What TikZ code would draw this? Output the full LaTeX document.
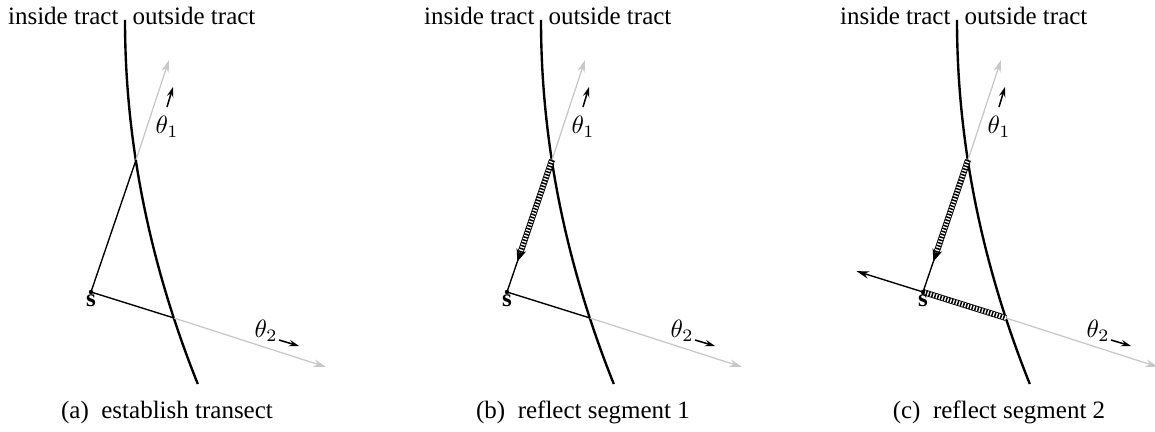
\documentclass[tikz,border=0pt]{standalone}
\usepackage{fontspec}
\setmainfont{Liberation Serif}
\usetikzlibrary{arrows.meta,calc}

\begin{document}
\begin{tikzpicture}[x=0.4pt, y=-0.4pt, >={Stealth[length=5pt,width=3pt]},
    tract/.style={line width=0.95pt},
    ray/.style={black!22, line width=0.5pt, ->},
    leg/.style={line width=0.55pt},
    tip/.style={line width=0.6pt, -{Stealth[length=4pt,width=2.6pt]}},
    hatched/.style={line width=1.9pt, dash pattern=on 0.6pt off 0.6pt,
        preaction={draw, solid, line width=0.35pt, double, double distance=1.7pt}}]

    \useasboundingbox (0,0) rectangle (1155,432);

    % --- (a): establish transect ---
    \begin{scope}
        \coordinate (sa) at (91,292);
        \coordinate (pa1) at (136,160);
        \coordinate (pa2) at (174,318);
        \coordinate (ta1) at (169,60);
        \coordinate (ta2) at (326,367);

        \draw[tract, domain=0:364, samples=60, variable=\t]
            plot ({125+0.00055*\t*\t},{20+\t});
        \node[anchor=base east, inner sep=0] (ina) at (119,25) {inside tract};
        \node[anchor=base west, inner sep=0] (outa) at (132,25) {outside tract};

        \draw[ray] (pa1) -- (ta1);
        \draw[ray] (pa2) -- (ta2);
        \draw[leg] (sa) -- (pa1);
        \draw[leg] (sa) -- (pa2);
        \fill (sa) circle (2.2);
        \node[below, inner sep=1pt] (la) at (sa) {\textbf{s}};

        \node (th1a) at (167,127) {$\theta_1$};
        \coordinate (ua1) at (167,107);
        \coordinate (va1) at (173,87);
        \draw[tip] (ua1) -- (va1);
        \node (th2a) at (266,331) {$\theta_2$};
        \coordinate (ua2) at (279,340);
        \coordinate (va2) at (299,346);
        \draw[tip] (ua2) -- (va2);

        \node (capa) at (167,412) {(a)\enspace establish transect};
    \end{scope}

    % --- (b): reflect segment 1 ---
    \begin{scope}[shift={(416,0)}]
        \coordinate (sb) at (91,292);
        \coordinate (pb1) at (136,160);
        \coordinate (pb2) at (174,318);
        \coordinate (tb1) at (169,60);
        \coordinate (tb2) at (326,367);
        \coordinate (hb1) at ($(pb1)!0.7!(sb)$);
        \coordinate (kb1) at ($(pb1)!0.77!(sb)$);

        \draw[tract, domain=0:364, samples=60, variable=\t]
            plot ({125+0.00055*\t*\t},{20+\t});
        \node[anchor=base east, inner sep=0] (inb) at (119,25) {inside tract};
        \node[anchor=base west, inner sep=0] (outb) at (132,25) {outside tract};

        \draw[ray] (pb1) -- (tb1);
        \draw[ray] (pb2) -- (tb2);
        \draw[leg] (sb) -- (pb1);
        \draw[leg] (sb) -- (pb2);
        \draw[hatched] (pb1) -- (hb1);
        \draw[-{Stealth[length=5pt,width=4pt]}] (hb1) -- (kb1);
        \fill (sb) circle (2.2);
        \node[below, inner sep=1pt] (lb) at (sb) {\textbf{s}};

        \node (th1b) at (167,127) {$\theta_1$};
        \coordinate (ub1) at (167,107);
        \coordinate (vb1) at (173,87);
        \draw[tip] (ub1) -- (vb1);
        \node (th2b) at (266,331) {$\theta_2$};
        \coordinate (ub2) at (279,340);
        \coordinate (vb2) at (299,346);
        \draw[tip] (ub2) -- (vb2);

        \node (capb) at (167,412) {(b)\enspace reflect segment 1};
    \end{scope}

    % --- (c): reflect segment 2 ---
    \begin{scope}[shift={(832,0)}]
        \coordinate (sc) at (91,292);
        \coordinate (pc1) at (136,160);
        \coordinate (pc2) at (174,318);
        \coordinate (tc1) at (169,60);
        \coordinate (tc2) at (326,367);
        \coordinate (hc1) at ($(pc1)!0.7!(sc)$);
        \coordinate (kc1) at ($(pc1)!0.77!(sc)$);
        \coordinate (hc2) at ($(sc)!-0.8!(pc2)$);

        \draw[tract, domain=0:364, samples=60, variable=\t]
            plot ({125+0.00055*\t*\t},{20+\t});
        \node[anchor=base east, inner sep=0] (inc) at (119,25) {inside tract};
        \node[anchor=base west, inner sep=0] (outc) at (132,25) {outside tract};

        \draw[ray] (pc1) -- (tc1);
        \draw[ray] (pc2) -- (tc2);
        \draw[leg] (sc) -- (pc1);
        \draw[leg, ->] (sc) -- (hc2);
        \draw[hatched] (pc1) -- (hc1);
        \draw[-{Stealth[length=5pt,width=4pt]}] (hc1) -- (kc1);
        \draw[hatched] (sc) -- (pc2);
        \fill (sc) circle (2.2);
        \node[below, inner sep=1pt] (lc) at (sc) {\textbf{s}};

        \node (th1c) at (167,127) {$\theta_1$};
        \coordinate (uc1) at (167,107);
        \coordinate (vc1) at (173,87);
        \draw[tip] (uc1) -- (vc1);
        \node (th2c) at (266,331) {$\theta_2$};
        \coordinate (uc2) at (279,340);
        \coordinate (vc2) at (299,346);
        \draw[tip] (uc2) -- (vc2);

        \node (capc) at (167,412) {(c)\enspace reflect segment 2};
    \end{scope}

\end{tikzpicture}
\end{document}
